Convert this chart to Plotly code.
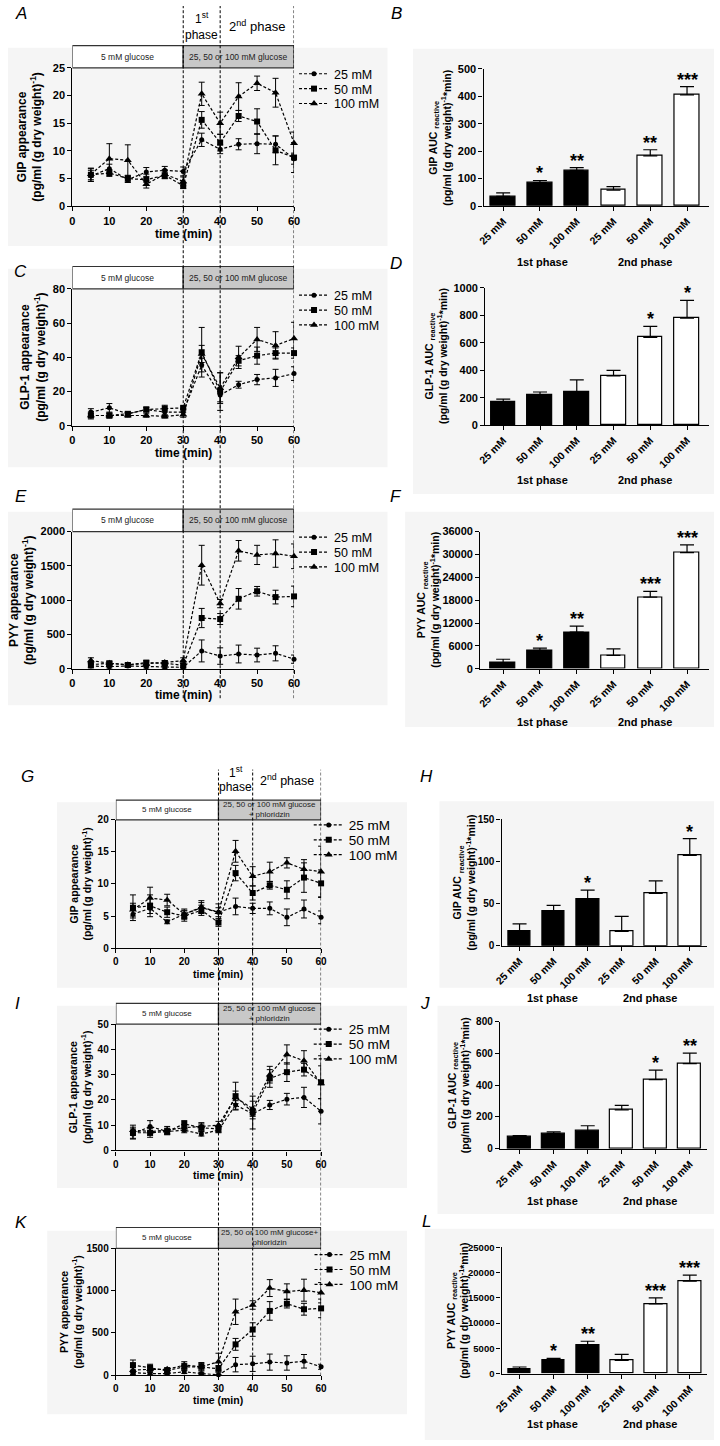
import plotly.graph_objects as go

# ---------------- DATA ----------------
time = [5, 10, 15, 20, 25, 30, 35, 40, 45, 50, 55, 60]
series_names = ["25 mM", "50 mM", "100 mM"]
categories = ["25 mM", "50 mM", "100 mM", "25 mM", "50 mM", "100 mM"]

# A: GIP appearance (glucose)
A_25 = [5.5, 6.8, 4.8, 6.2, 6.5, 6.3, 12.0, 10.3, 11.2, 11.3, 11.2, 8.6]
A_25_err = [1.0, 0.8, 0.5, 0.8, 0.7, 0.8, 1.2, 0.8, 1.0, 1.8, 1.5, 1.0]
A_50 = [5.7, 6.0, 5.0, 4.8, 5.6, 3.7, 15.6, 11.5, 16.3, 15.3, 10.1, 8.8]
A_50_err = [1.2, 0.6, 0.6, 1.0, 0.6, 0.5, 1.5, 1.5, 1.0, 2.3, 2.6, 2.7]
A_100 = [5.8, 8.6, 8.3, 4.0, 5.8, 4.5, 20.3, 15.0, 19.8, 22.2, 20.5, 11.4]
A_100_err = [1.0, 2.7, 2.8, 0.7, 0.8, 0.8, 2.1, 2.0, 2.5, 1.3, 2.6, 2.0]

# C: GLP-1 appearance (glucose)
C_25 = [8, 10.5, 7, 9.5, 8, 8, 35.5, 18, 24, 27, 28, 30.5]
C_25_err = [2, 2.5, 1, 1.5, 2, 2, 4, 4, 2, 3, 5, 4]
C_50 = [6, 6, 7, 9.5, 10, 10.5, 43, 20, 38, 41, 42.5, 42.5]
C_50_err = [2, 1.5, 1, 1, 2, 1, 14.5, 11, 3, 5, 3, 3]
C_100 = [6, 6, 6, 6, 5.5, 6.5, 42, 22, 40, 50.5, 47, 51]
C_100_err = [1, 1, 1, 1, 1, 1.5, 5, 9, 6.5, 7, 8, 9.5]

# E: PYY appearance (glucose)
E_25 = [40, 30, 40, 30, 20, 20, 260, 185, 215, 200, 225, 140]
E_25_err = [30, 20, 20, 20, 20, 20, 160, 120, 130, 100, 110, 60]
E_50 = [60, 80, 55, 90, 80, 50, 740, 725, 1020, 1130, 1045, 1055]
E_50_err = [40, 30, 20, 30, 30, 30, 140, 80, 150, 70, 100, 150]
E_100 = [120, 80, 60, 70, 90, 120, 1510, 950, 1720, 1660, 1680, 1640]
E_100_err = [40, 20, 20, 30, 30, 40, 290, 60, 150, 140, 200, 180]

# G: GIP appearance (glucose + phloridzin)
G_25 = [5.3, 6.2, 4.1, 5.3, 6.3, 5.6, 6.5, 6.2, 6.2, 4.8, 6.1, 4.8]
G_25_err = [0.6, 0.8, 0.3, 0.6, 0.8, 0.7, 1.3, 0.8, 1.0, 1.3, 1.4, 1.0]
G_50 = [6.3, 6.6, 5.6, 5.0, 5.9, 4.0, 11.7, 8.6, 9.8, 9.1, 11.0, 10.1]
G_50_err = [2.0, 1.7, 0.8, 0.8, 0.8, 0.6, 1.2, 1.1, 0.6, 1.4, 2.3, 2.1]
G_100 = [6.0, 7.8, 7.5, 5.3, 6.4, 5.6, 15.1, 11.2, 11.9, 13.3, 12.3, 11.9]
G_100_err = [1.0, 1.7, 0.9, 0.8, 1.0, 1.3, 1.7, 1.5, 1.5, 0.8, 1.5, 4.0]

# I: GLP-1 appearance (glucose + phloridzin)
I_25 = [6.5, 9.5, 7.5, 8, 6.5, 8, 18, 14.5, 18, 20.3, 21, 15.5]
I_25_err = [2, 2.3, 1, 1, 0.8, 1, 1.7, 2, 1.8, 2.3, 4, 5]
I_50 = [7, 7, 7.5, 10.5, 9, 8.5, 21.5, 15, 28.5, 31, 32, 27]
I_50_err = [2.2, 1.8, 1.3, 1.3, 1.5, 1.3, 5.5, 6.5, 3.5, 3.7, 2.5, 6.5]
I_100 = [8, 7.5, 8, 9, 9.5, 10, 21, 16.5, 30, 38, 35.5, 26.5]
I_100_err = [2, 1.5, 1.5, 1.3, 1.5, 1.5, 2.5, 3, 3.3, 3.8, 4, 11]

# K: PYY appearance (glucose + phloridzin)
K_25 = [30, 20, 20, 40, 20, 5, 125, 135, 155, 145, 165, 100]
K_25_err = [20, 15, 15, 20, 10, 5, 85, 90, 95, 85, 80, 30]
K_50 = [120, 90, 55, 100, 100, 75, 365, 540, 760, 845, 780, 790]
K_50_err = [60, 40, 20, 40, 40, 40, 70, 80, 110, 50, 70, 110]
K_100 = [60, 70, 70, 120, 100, 160, 750, 830, 1030, 990, 1005, 975]
K_100_err = [30, 30, 20, 40, 50, 100, 150, 50, 100, 90, 130, 120]

# Bar panels (AUC)
B_auc = [35, 85, 130, 58, 183, 405]
B_err = [13, 8, 10, 13, 22, 30]
B_sig = ["", "*", "**", "", "**", "***"]
D_auc = [170, 220, 240, 360, 640, 780]
D_err = [20, 22, 90, 40, 80, 130]
D_sig = ["", "", "", "", "*", "*"]
F_auc = [1500, 4800, 9600, 3500, 18800, 30500]
F_err = [1000, 600, 1600, 1700, 1500, 2000]
F_sig = ["", "*", "**", "", "***", "***"]
H_auc = [17, 41, 55, 17, 62, 107]
H_err = [9, 7, 11, 18, 15, 20]
H_sig = ["", "", "*", "", "", "*"]
J_auc = [75, 97, 110, 245, 435, 537]
J_err = [8, 10, 35, 28, 60, 65]
J_sig = ["", "", "", "", "*", "**"]
L_auc = [800, 2600, 5600, 2600, 13800, 18300]
L_err = [500, 400, 800, 1200, 1200, 1200]
L_sig = ["", "*", "**", "", "***", "***"]

# ---------------- LAYOUT HELPERS ----------------
W, H = 720, 1446
def fx(p): return p / W
def fy(p): return 1 - p / H

FONT = "Liberation Sans, Arial, sans-serif"

def tickfont(size):
    return dict(family=FONT, size=size, color="black", weight="bold")

fig = go.Figure()
shapes, ann, lay = [], [], {}

def axkey(kind, i):
    return kind + ("" if i == 1 else str(i))

def A(**kw):
    d = dict(showarrow=False, xanchor="center", yanchor="middle")
    d.update(kw)
    ann.append(d)

# light grey panel backgrounds
for (x0, y0, x1, y1) in [(0, 42, 387, 242), (0, 265, 387, 465), (0, 510, 387, 705),
                         (413, 43, 720, 492), (405, 510, 720, 727),
                         (50, 803, 407, 990), (440, 802, 720, 990), (50, 1008, 407, 1192),
                         (438, 1008, 720, 1218), (40, 1235, 407, 1420), (425, 1233, 720, 1446)]:
    shapes.append(dict(type="rect", xref="paper", yref="paper", x0=fx(x0), x1=fx(x1),
                       y0=fy(y1), y1=fy(y0), fillcolor="#f5f5f5", line=dict(width=0), layer="below"))

symbols = ["circle", "square", "triangle-up"]
msizes = [5, 6, 7]

time_panels = [
    dict(i=1, letter="A", xp=(65.7, 291.7), yp=(62.3, 202.0), htop=40.0, ymax=25, dtick=5,
         s=[(A_25, A_25_err), (A_50, A_50_err), (A_100, A_100_err)],
         t1="GIP appearance", tx=22, tly=230, legx=331.7, legy=71.7,
         hdr="25, 50 or 100 mM glucose", lab=(13, 8), fs=dict(tick=11, title=12, leg=12.5, hdr=8.5)),
    dict(i=3, letter="C", xp=(65.7, 291.7), yp=(285.3, 423.3), htop=262.7, ymax=80, dtick=20,
         s=[(C_25, C_25_err), (C_50, C_50_err), (C_100, C_100_err)],
         t1="GLP-1 appearance", tx=26, tly=451, legx=331.7, legy=295,
         hdr="25, 50 or 100 mM glucose", lab=(13, 268), fs=dict(tick=11, title=12, leg=12.5, hdr=8.5)),
    dict(i=5, letter="E", xp=(65.7, 291.7), yp=(530.0, 668.3), htop=507.3, ymax=2000, dtick=500,
         s=[(E_25, E_25_err), (E_50, E_50_err), (E_100, E_100_err)],
         t1="PYY appearance", tx=14, tly=695, legx=331.7, legy=539,
         hdr="25, 50 or 100 mM glucose", lab=(13, 495), fs=dict(tick=11, title=12, leg=12.5, hdr=8.5)),
    dict(i=7, letter="G", xp=(110.0, 319.3), yp=(820.7, 950.0), htop=800.7, ymax=20, dtick=5,
         s=[(G_25, G_25_err), (G_50, G_50_err), (G_100, G_100_err)],
         t1="GIP appearance", tx=74, tly=976, legx=346.7, legy=829,
         hdr="25, 50 or 100 mM glucose<br>+ phloridzin", lab=(20, 777),
         fs=dict(tick=10, title=10.5, leg=13.5, hdr=8)),
    dict(i=9, letter="I", xp=(110.0, 319.3), yp=(1026.7, 1154.0), htop=1005.7, ymax=50, dtick=10,
         s=[(I_25, I_25_err), (I_50, I_50_err), (I_100, I_100_err)],
         t1="GLP-1 appearance", tx=74, tly=1179, legx=346.7, legy=1035,
         hdr="25, 50 or 100 mM glucose<br>+ phloridzin", lab=(10, 1006),
         fs=dict(tick=10, title=10.5, leg=13.5, hdr=8)),
    dict(i=11, letter="K", xp=(110.0, 319.3), yp=(1252.7, 1380.7), htop=1231.7, ymax=1500, dtick=500,
         s=[(K_25, K_25_err), (K_50, K_50_err), (K_100, K_100_err)],
         t1="PYY appearance", tx=64, tly=1406, legx=347.5, legy=1262.3,
         hdr="25, 50 or 100 mM glucose+<br>phloridzin", lab=(13, 1227),
         fs=dict(tick=10, title=10.5, leg=13.5, hdr=8)),
]

leg_n = 0
for p in time_panels:
    i = p["i"]
    fs = p["fs"]
    xa, ya = axkey("x", i), axkey("y", i)
    for k, (vals, errs) in enumerate(p["s"]):
        leg_n += 1
        lname = "legend" if leg_n == 1 else f"legend{leg_n}"
        fig.add_trace(go.Scatter(
            x=time, y=vals, name=series_names[k], mode="lines+markers",
            xaxis=xa, yaxis=ya, legend=lname, cliponaxis=False,
            line=dict(color="black", width=1.2, dash="3px,2px"),
            marker=dict(symbol=symbols[k], size=msizes[k], color="black"),
            error_y=dict(type="data", array=errs, color="black", thickness=1, width=3)))
        lay[lname] = dict(x=fx(p["legx"] - 40), y=fy(p["legy"] - 3 + 15 * k), xanchor="left",
                          yanchor="middle", bgcolor="rgba(0,0,0,0)", itemwidth=30,
                          font=dict(family=FONT, size=fs["leg"], color="black"))
    lay[axkey("xaxis", i)] = dict(domain=[fx(p["xp"][0]), fx(p["xp"][1])], anchor=ya,
                                 range=[0, 60], tickvals=[0, 10, 20, 30, 40, 50, 60],
                                 showline=True, linecolor="black", linewidth=1.3,
                                 ticks="outside", ticklen=4, tickwidth=1.2, tickcolor="black",
                                 showgrid=False, zeroline=False, tickfont=tickfont(fs["tick"]))
    lay[axkey("yaxis", i)] = dict(domain=[fy(p["yp"][1]), fy(p["yp"][0])], anchor=xa,
                                 range=[0, p["ymax"]], dtick=p["dtick"], tick0=0, tickformat="d",
                                 showline=True, linecolor="black", linewidth=1.3,
                                 ticks="outside", ticklen=4, tickwidth=1.2, tickcolor="black",
                                 showgrid=False, zeroline=False, tickfont=tickfont(fs["tick"]))
    ph = p["yp"][1] - p["yp"][0]
    ytop = 1 + (p["yp"][0] - p["htop"]) / ph
    yd = ya + " domain"
    shapes.append(dict(type="rect", xref=xa, yref=yd, x0=0, x1=30, y0=1, y1=ytop,
                       fillcolor="white", line=dict(color="#333333", width=1.2)))
    shapes.append(dict(type="rect", xref=xa, yref=yd, x0=30, x1=60, y0=1, y1=ytop,
                       fillcolor="#c8c8c8", line=dict(color="#333333", width=1.2)))
    ymid = (1 + ytop) / 2
    A(text="5 mM glucose", x=15, y=ymid, xref=xa, yref=yd,
      font=dict(family=FONT, size=fs["hdr"], color="#222222"))
    A(text=p["hdr"], x=45, y=ymid, xref=xa, yref=yd,
      font=dict(family=FONT, size=fs["hdr"], color="#222222"))
    A(text=p["t1"] + "<br>(pg/ml (g dry weight)<sup>-1</sup>)", textangle=-90,
      x=fx(p["tx"]), y=fy((p["yp"][0] + p["yp"][1]) / 2), xref="paper", yref="paper",
      font=dict(family=FONT, size=fs["title"], color="black", weight="bold"))
    A(text="time (min)", x=30, y=fy(p["tly"]), xref=xa, yref="paper",
      font=dict(family=FONT, size=fs["title"], color="black", weight="bold"))
    A(text=p["letter"], x=fx(p["lab"][0]), y=fy(p["lab"][1]), xref="paper", yref="paper",
      font=dict(family=FONT, size=17, color="black", style="italic"))

# phase separators (dashed lines) and phase labels
for xa, (ytop_px, ybot_px), (l1y, l2y, l3y), f2 in [("x", (0, 698), (12, 29, 20), 13),
                                                    ("x7", (770, 1381), (772, 788, 780), 12.5)]:
    for xv in [30, 40, 60]:
        shapes.append(dict(type="line", xref=xa, yref="paper", x0=xv, x1=xv,
                           y0=fy(ybot_px), y1=fy(ytop_px),
                           line=dict(color="black", width=1, dash="3px,2px")))
    A(text="1<sup>st</sup>", x=35, y=fy(l1y), xref=xa, yref="paper",
      font=dict(family=FONT, size=12, color="black"))
    A(text="phase", x=35, y=fy(l2y), xref=xa, yref="paper",
      font=dict(family=FONT, size=12, color="black"))
    A(text="2<sup>nd</sup> phase", x=50, y=fy(l3y), xref=xa, yref="paper",
      font=dict(family=FONT, size=f2, color="black"))

bar_panels = [
    dict(i=2, letter="B", xp=(485, 715), xr=(-0.533, 5.6), yp=(63.3, 201.7), ymax=500, dtick=100,
         auc=B_auc, err=B_err, sig=B_sig, t1="GIP AUC", tx=441, phy=258, ph=(545, 650), lab=(396, 8), tf=11),
    dict(i=4, letter="D", xp=(486.7, 715), xr=(-0.49, 5.6), yp=(284.3, 422.7), ymax=1000, dtick=200,
         auc=D_auc, err=D_err, sig=D_sig, t1="GLP-1 AUC", tx=436, phy=478, ph=(545, 650), lab=(396, 260), tf=11),
    dict(i=6, letter="F", xp=(481.7, 715), xr=(-0.62, 5.6), yp=(530.0, 668.3), ymax=36000, dtick=6000,
         auc=F_auc, err=F_err, sig=F_sig, t1="PYY AUC", tx=429, phy=722, ph=(545, 650), lab=(396, 495), tf=11),
    dict(i=8, letter="H", xp=(503.3, 713), xr=(-0.53, 5.51), yp=(820.0, 947.7), ymax=150, dtick=50,
         auc=H_auc, err=H_err, sig=H_sig, t1="GIP AUC", tx=465, phy=1000, ph=(555, 655), lab=(427, 777), tf=10),
    dict(i=10, letter="J", xp=(501.7, 713), xr=(-0.58, 5.51), yp=(1024.3, 1152.3), ymax=800, dtick=200,
         auc=J_auc, err=J_err, sig=J_sig, t1="GLP-1 AUC", tx=460, phy=1205, ph=(555, 655), lab=(425, 1006), tf=10),
    dict(i=12, letter="L", xp=(503.3, 713), xr=(-0.53, 5.51), yp=(1251.7, 1379.0), ymax=25000, dtick=5000,
         auc=L_auc, err=L_err, sig=L_sig, t1="PYY AUC", tx=459, phy=1430, ph=(555, 655), lab=(427, 1226), tf=9.5),
]

for p in bar_panels:
    i = p["i"]
    xa, ya = axkey("x", i), axkey("y", i)
    xs = list(range(len(categories)))
    fig.add_trace(go.Bar(
        x=xs, y=p["auc"], xaxis=xa, yaxis=ya, width=0.67, showlegend=False,
        marker=dict(color=["black"] * 3 + ["white"] * 3, line=dict(color="black", width=1.2)),
        error_y=dict(type="data", array=p["err"], arrayminus=[0] * 6, symmetric=False,
                     color="black", thickness=1.2, width=7)))
    lay[axkey("xaxis", i)] = dict(domain=[fx(p["xp"][0]), fx(p["xp"][1])], anchor=ya,
                                 range=list(p["xr"]), tickvals=xs, ticktext=categories, tickangle=-45,
                                 showline=True, linecolor="black", linewidth=1.3,
                                 ticks="outside", ticklen=4, tickwidth=1.2, tickcolor="black",
                                 showgrid=False, zeroline=False, tickfont=tickfont(10.5))
    lay[axkey("yaxis", i)] = dict(domain=[fy(p["yp"][1]), fy(p["yp"][0])], anchor=xa,
                                 range=[0, p["ymax"]], dtick=p["dtick"], tick0=0, tickformat="d",
                                 showline=True, linecolor="black", linewidth=1.3,
                                 ticks="outside", ticklen=4, tickwidth=1.2, tickcolor="black",
                                 showgrid=False, zeroline=False, tickfont=tickfont(p["tf"]))
    for k in xs:
        if p["sig"][k]:
            A(text=p["sig"][k], x=k, y=p["auc"][k] + p["err"][k], xref=xa, yref=ya,
              yanchor="bottom", yshift=-5,
              font=dict(family=FONT, size=18, color="black", weight="bold"))
    A(text=p["t1"] + " <sub>reactive</sub><br>(pg/ml (g dry weight)<sup>-1</sup>*min)",
      textangle=-90, x=fx(p["tx"]), y=fy((p["yp"][0] + p["yp"][1]) / 2),
      xref="paper", yref="paper",
      font=dict(family=FONT, size=10.5, color="black", weight="bold"))
    for txt, xp in zip(["1st phase", "2nd phase"], p["ph"]):
        A(text=txt, x=fx(xp), y=fy(p["phy"]), xref="paper", yref="paper",
          font=dict(family=FONT, size=11, color="black", weight="bold"))
    A(text=p["letter"], x=fx(p["lab"][0]), y=fy(p["lab"][1]), xref="paper", yref="paper",
      font=dict(family=FONT, size=17, color="black", style="italic"))

fig.update_layout(width=W, height=H, margin=dict(l=0, r=0, t=0, b=0),
                  paper_bgcolor="white", plot_bgcolor="rgba(0,0,0,0)",
                  font=dict(family=FONT, color="black"),
                  shapes=shapes, annotations=ann, bargap=0, **lay)

fig.write_html("out.html", config={"displayModeBar": False},
               post_script="document.body.style.margin='0px';document.body.style.overflow='hidden';")
